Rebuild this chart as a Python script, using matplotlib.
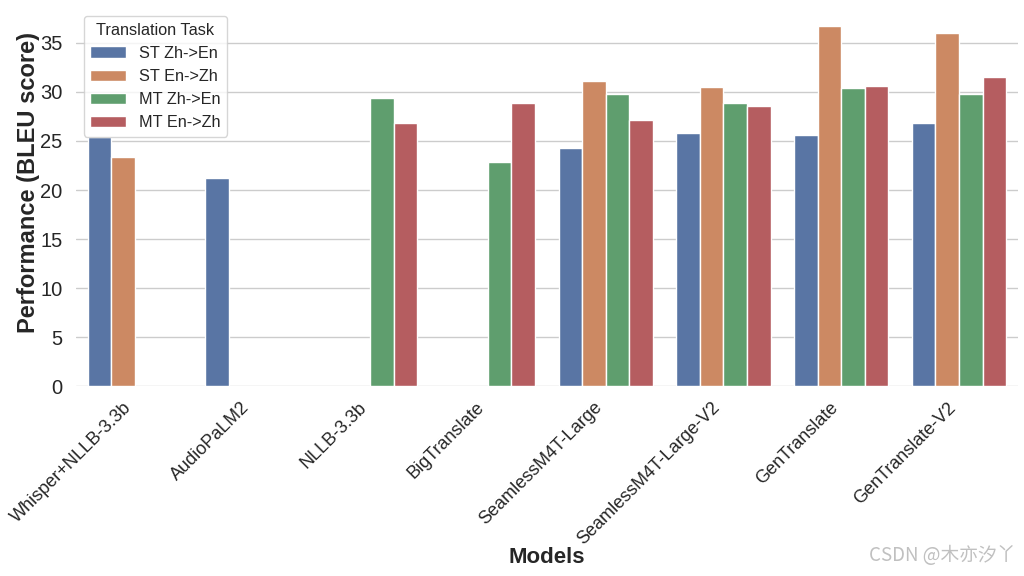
import matplotlib
matplotlib.use("Agg")
import matplotlib.pyplot as plt
import numpy as np
import pandas as pd
import seaborn as sns

models = ["Whisper+NLLB-3.3b", "AudioPaLM2", "NLLB-3.3b", "BigTranslate",
          "SeamlessM4T-Large", "SeamlessM4T-Large-V2", "GenTranslate", "GenTranslate-V2"]
tasks = ["ST Zh->En", "ST En->Zh", "MT Zh->En", "MT En->Zh"]

nan = np.nan
st_zh_en = [25.4, 21.2, nan, nan, 24.3, 25.8, 25.6, 26.8]
st_en_zh = [23.4, nan, nan, nan, 31.1, 30.5, 36.7, 36.0]
mt_zh_en = [nan, nan, 29.4, 22.9, 29.8, 28.9, 30.4, 29.8]
mt_en_zh = [nan, nan, 26.8, 28.9, 27.1, 28.6, 30.6, 31.5]

rows = []
for task, vals in zip(tasks, [st_zh_en, st_en_zh, mt_zh_en, mt_en_zh]):
    for m, v in zip(models, vals):
        rows.append({"Models": m, "Translation Task": task, "BLEU": v})
df = pd.DataFrame(rows)

sns.set_theme(style="whitegrid")
plt.rcParams['font.family'] = ['Liberation Sans', 'Noto Sans CJK SC']

fig = plt.figure(figsize=(10.24, 5.76), dpi=100)
ax = fig.add_axes([0.074, 0.329, 0.920, 0.657])

sns.barplot(data=df, x="Models", y="BLEU", hue="Translation Task",
            hue_order=tasks, palette="deep", edgecolor="white", linewidth=1,
            ax=ax)

ax.set_xlabel("Models", fontsize=16, fontweight="bold")
ax.xaxis.set_label_coords(0.5, -0.452)
ax.xaxis.label.set_va("center")
ax.set_ylabel("Performance (BLEU score)", fontsize=17, fontweight="bold")
ax.yaxis.set_label_coords(-0.05, 0.54)
ax.yaxis.label.set_va("center")
ax.tick_params(axis="y", labelsize=14.5)
ax.tick_params(axis="x", labelsize=13, pad=3)
plt.setp(ax.get_xticklabels(), rotation=45, ha="right")
ax.set_xlim(-0.5, 7.5)
ax.set_yticks([0, 5, 10, 15, 20, 25, 30, 35])
sns.despine(ax=ax, left=True, bottom=True)

leg = ax.legend(title="Translation Task", loc="upper left", fontsize=11.7,
                title_fontsize=11.7, bbox_to_anchor=(0.0, 1.0),
                handlelength=2.2)

fig.text(0.992, 0.018, "CSDN @木亦汐丫", ha="right", va="bottom", fontsize=13.5,
         color="#c0c0c0", family=['Noto Sans CJK SC', 'DejaVu Sans'])

fig.savefig("out.png", dpi=100)
